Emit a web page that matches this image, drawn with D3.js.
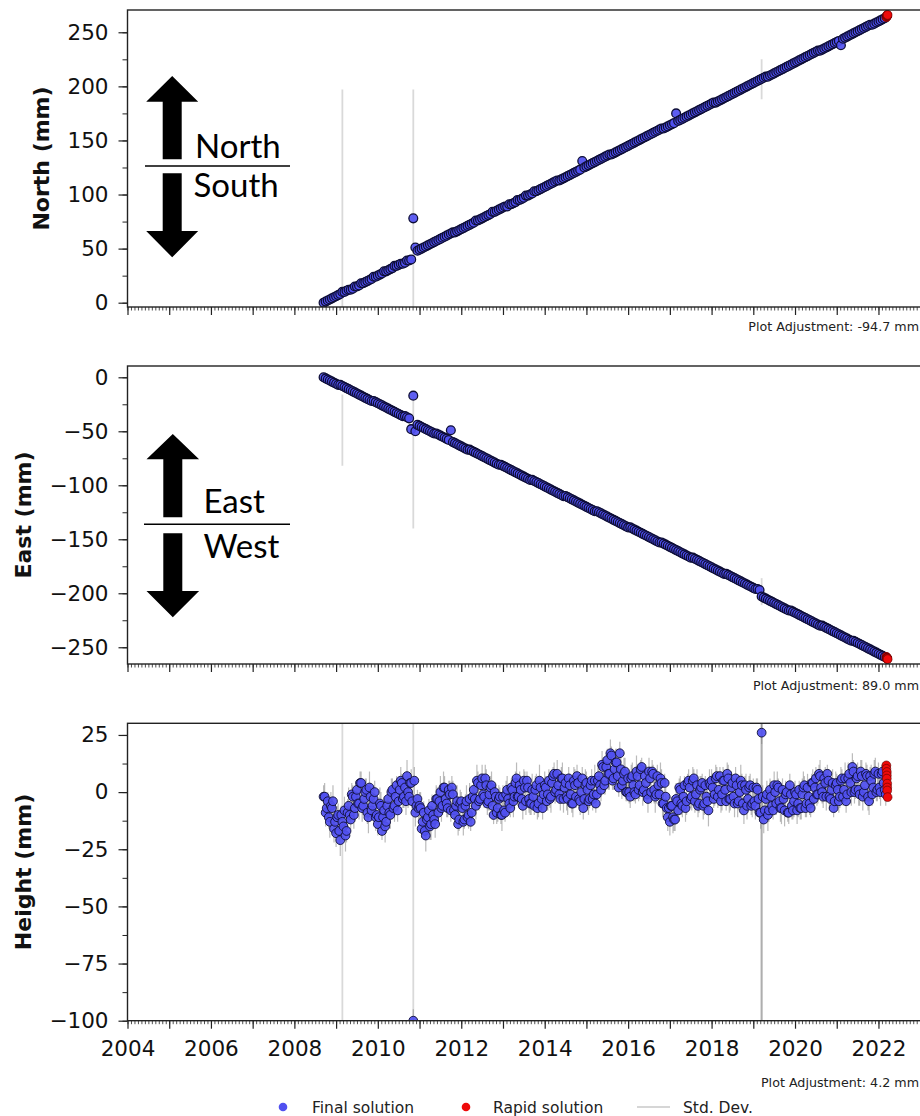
<!DOCTYPE html>
<html><head><meta charset="utf-8">
<script src="https://cdn.jsdelivr.net/npm/d3@7"></script>
<style>body{margin:0;background:#fff} svg{display:block}</style>
</head><body>
<svg id="chart" width="920" height="1116"></svg>
<script>
// ---------- DATA ----------
const epochs = [
2008.70,2008.75,2008.80,2008.85,2008.90,2008.95,
2009.00,2009.05,2009.10,2009.15,2009.20,2009.25,2009.30,2009.35,2009.40,2009.45,2009.50,2009.55,2009.60,2009.65,2009.70,2009.75,2009.80,2009.85,2009.90,2009.95,
2010.00,2010.05,2010.10,2010.15,2010.20,2010.25,2010.30,2010.35,2010.40,2010.45,2010.50,2010.55,2010.60,2010.65,2010.70,2010.75,2010.80,2010.85,2010.90,2010.95,
2011.00,2011.05,2011.10,2011.15,2011.20,2011.25,2011.30,2011.35,2011.40,2011.45,2011.50,2011.55,2011.60,2011.65,2011.70,2011.75,2011.80,2011.85,2011.90,2011.95,
2012.00,2012.05,2012.10,2012.15,2012.20,2012.25,2012.30,2012.35,2012.40,2012.45,2012.50,2012.55,2012.60,2012.65,2012.70,2012.75,2012.80,2012.85,2012.90,2012.95,
2013.00,2013.05,2013.10,2013.15,2013.20,2013.25,2013.30,2013.35,2013.40,2013.45,2013.50,2013.55,2013.60,2013.65,2013.70,2013.75,2013.80,2013.85,2013.90,2013.95,
2014.00,2014.05,2014.10,2014.15,2014.20,2014.25,2014.30,2014.35,2014.40,2014.45,2014.50,2014.55,2014.60,2014.65,2014.70,2014.75,2014.80,2014.85,2014.90,2014.95,
2015.00,2015.05,2015.10,2015.15,2015.20,2015.25,2015.30,2015.35,2015.40,2015.45,2015.50,2015.55,2015.60,2015.65,2015.70,2015.75,2015.80,2015.85,2015.90,2015.95,
2016.00,2016.05,2016.10,2016.15,2016.20,2016.25,2016.30,2016.35,2016.40,2016.45,2016.50,2016.55,2016.60,2016.65,2016.70,2016.75,2016.80,2016.85,2016.90,2016.95,
2017.00,2017.05,2017.10,2017.15,2017.20,2017.25,2017.30,2017.35,2017.40,2017.45,2017.50,2017.55,2017.60,2017.65,2017.70,2017.75,2017.80,2017.85,2017.90,2017.95,
2018.00,2018.05,2018.10,2018.15,2018.20,2018.25,2018.30,2018.35,2018.40,2018.45,2018.50,2018.55,2018.60,2018.65,2018.70,2018.75,2018.80,2018.85,2018.90,2018.95,
2019.00,2019.05,2019.10,2019.15,2019.20,2019.25,2019.30,2019.35,2019.40,2019.45,2019.50,2019.55,2019.60,2019.65,2019.70,2019.75,2019.80,2019.85,2019.90,2019.95,
2020.00,2020.05,2020.10,2020.15,2020.20,2020.25,2020.30,2020.35,2020.40,2020.45,2020.50,2020.55,2020.60,2020.65,2020.70,2020.75,2020.80,2020.85,2020.90,2020.95,
2021.00,2021.05,2021.10,2021.15,2021.20,2021.25,2021.30,2021.35,2021.40,2021.45,2021.50,2021.55,2021.60,2021.65,2021.70,2021.75,2021.80,2021.85,2021.90,2021.95,
2022.00,2022.05,2022.10,2022.15
];

const north = [
0,1,2,3,4,5,
6,7,8,10,10,11,12,12,13,15,15,16,18,18,19,20,21,22,24,24,
25,26,27,29,29,30,31,32,34,34,35,36,36,37,39,39,40,78,51,48,
49,50,51,52,53,54,55,56,57,58,59,60,61,62,63,64,65,65,66,67,
68,69,70,71,72,73,74,76,76,77,78,79,80,81,82,84,84,85,86,87,
88,89,89,91,91,92,93,95,95,96,97,99,99,100,101,103,103,104,105,106,
107,108,109,110,111,112,113,113,114,115,116,117,118,119,120,121,122,123,131,125,
126,127,128,129,130,131,132,133,134,135,136,137,137,138,139,140,141,142,143,144,
145,146,147,148,149,150,151,152,153,154,155,156,157,158,159,160,161,161,162,163,
164,165,166,175,168,169,170,171,172,173,174,175,176,177,178,179,180,181,182,183,
184,185,185,186,187,188,189,190,191,192,193,194,195,196,197,198,199,200,201,202,
203,204,205,206,207,208,209,209,210,211,212,213,214,215,216,217,218,219,220,221,
222,223,224,225,226,227,228,229,230,231,232,233,233,234,235,236,237,238,239,240,
241,242,238,244,245,246,247,248,249,250,251,252,253,254,255,256,257,257,258,259,
260,261,262,263
];

const east = [
0,-1,-2,-3,-4,-5,
-6,-7,-7,-8,-9,-10,-11,-12,-13,-14,-15,-16,-17,-18,-19,-20,-21,-22,-22,-23,
-24,-25,-26,-27,-28,-29,-30,-31,-32,-33,-34,-35,-36,-36,-37,-38,-48,-17,-50,-44,
-45,-46,-47,-48,-49,-50,-51,-52,-52,-53,-54,-55,-56,-57,-58,-49,-60,-61,-62,-63,
-64,-65,-66,-67,-67,-68,-69,-70,-71,-72,-73,-74,-75,-76,-77,-78,-79,-80,-81,-81,
-82,-83,-84,-85,-86,-87,-88,-89,-90,-91,-92,-93,-94,-95,-95,-96,-97,-98,-99,-100,
-101,-102,-103,-104,-105,-106,-107,-108,-109,-110,-110,-111,-112,-113,-114,-115,-116,-117,-118,-119,
-120,-121,-122,-123,-124,-124,-125,-126,-127,-128,-129,-130,-131,-132,-133,-134,-135,-136,-137,-138,
-139,-139,-140,-141,-142,-143,-144,-145,-146,-147,-148,-149,-150,-151,-152,-153,-153,-154,-155,-156,
-157,-158,-159,-160,-161,-162,-163,-164,-165,-166,-167,-167,-168,-169,-170,-171,-172,-173,-174,-175,
-176,-177,-178,-179,-180,-181,-182,-182,-183,-184,-185,-186,-187,-188,-189,-190,-191,-192,-193,-194,
-195,-196,-196,-197,-203,-204,-205,-206,-207,-208,-209,-210,-211,-212,-213,-214,-215,-216,-216,-217,
-218,-219,-220,-221,-222,-223,-224,-225,-226,-227,-228,-229,-230,-230,-231,-232,-233,-234,-235,-236,
-237,-238,-239,-240,-241,-242,-243,-244,-244,-245,-246,-247,-248,-249,-250,-251,-252,-253,-254,-255,
-256,-257,-258,-259
];

const height = [
-2,-9,-4,-13,-7,-16,
-18,-10,-21,-13,-8,-17,-6,-12,-2,-7,1,-5,4,-6,0,-9,2,-8,-3,-11,
-14,-5,-17,-8,-13,-3,-10,1,-6,3,-4,5,-3,2,7,-2,4,-100,-9,-3,
-6,-16,-9,-19,-11,-15,-6,-12,-3,-9,0,-6,2,-5,1,-8,-1,-10,-4,-12,
-4,-13,-6,-11,-3,-9,1,-6,4,-3,6,-2,3,-4,2,-6,0,-9,-3,-10,
-2,-9,1,-5,2,-4,4,-2,3,-3,5,-4,2,-5,1,-6,3,-5,2,-7,
3,-4,5,-2,7,0,8,-1,6,-3,4,-3,3,-5,5,-2,4,-4,6,-3,
4,-4,3,-3,5,-1,7,1,11,5,14,8,16,6,13,7,17,3,8,0,
6,-2,7,0,9,1,10,0,7,-1,9,0,8,-2,7,-1,4,-5,-2,-11,
-13,-6,-12,-3,-8,1,-6,3,-4,5,-3,5,-4,3,-5,2,-6,3,-4,4,
5,-3,6,-2,7,-1,5,-4,6,-3,4,-5,3,-4,5,-5,3,-6,2,-6,
2,-6,1,-9,26,-12,-3,-10,1,-6,3,-5,2,-7,1,-8,0,-9,-1,-8,
0,-8,1,-7,2,-7,2,-5,4,-3,6,-1,7,0,6,-2,5,-3,4,-4,
4,-4,5,-2,6,-1,8,0,9,1,7,-1,7,0,8,-2,7,-1,8,0,
8,0,9,1
];

const sdHeight = [
5,6,4,7,5,6,
6,5,7,4,6,5,8,4,5,6,4,7,5,4,6,5,7,4,5,6,
5,7,4,6,5,4,6,5,7,4,5,6,4,5,7,4,6,5,6,4,
6,4,5,7,4,6,5,4,6,5,7,4,5,6,4,5,6,4,7,5,
4,6,5,4,7,5,4,6,5,4,6,5,7,4,5,6,4,5,6,4,
5,4,6,5,4,7,5,4,6,4,5,6,4,5,7,4,5,6,4,5,
6,4,5,7,4,5,6,4,5,6,4,7,5,4,6,5,4,6,5,4,
5,6,4,5,7,4,6,5,4,6,5,7,4,5,6,4,5,6,7,4,
4,5,6,4,7,5,4,6,5,4,6,5,4,7,5,4,6,5,4,6,
6,4,5,7,4,6,5,4,6,5,4,6,5,7,4,5,6,4,5,6,
5,4,6,5,4,7,5,4,6,5,4,6,5,4,7,5,4,6,5,4,
4,6,5,4,5,6,4,7,5,4,6,5,4,6,5,7,4,5,6,4,
5,6,4,5,7,4,6,5,4,6,5,4,7,5,4,6,5,4,6,5,
4,5,6,4,7,5,4,6,5,4,6,5,7,4,5,6,4,5,6,4,
5,6,4,5
];

// Second set of height solutions between the epochs above
const epochsB = [
2008.725,2008.775,2008.825,2008.875,2008.925,2008.975,
2009.025,2009.075,2009.125,2009.175,2009.225,2009.275,2009.325,2009.375,2009.425,2009.475,2009.525,2009.575,2009.625,2009.675,2009.725,2009.775,2009.825,2009.875,2009.925,2009.975,
2010.025,2010.075,2010.125,2010.175,2010.225,2010.275,2010.325,2010.375,2010.425,2010.475,2010.525,2010.575,2010.625,2010.675,2010.725,2010.775,2010.825,2010.875,2010.925,2010.975,
2011.025,2011.075,2011.125,2011.175,2011.225,2011.275,2011.325,2011.375,2011.425,2011.475,2011.525,2011.575,2011.625,2011.675,2011.725,2011.775,2011.825,2011.875,2011.925,2011.975,
2012.025,2012.075,2012.125,2012.175,2012.225,2012.275,2012.325,2012.375,2012.425,2012.475,2012.525,2012.575,2012.625,2012.675,2012.725,2012.775,2012.825,2012.875,2012.925,2012.975,
2013.025,2013.075,2013.125,2013.175,2013.225,2013.275,2013.325,2013.375,2013.425,2013.475,2013.525,2013.575,2013.625,2013.675,2013.725,2013.775,2013.825,2013.875,2013.925,2013.975,
2014.025,2014.075,2014.125,2014.175,2014.225,2014.275,2014.325,2014.375,2014.425,2014.475,2014.525,2014.575,2014.625,2014.675,2014.725,2014.775,2014.825,2014.875,2014.925,2014.975,
2015.025,2015.075,2015.125,2015.175,2015.225,2015.275,2015.325,2015.375,2015.425,2015.475,2015.525,2015.575,2015.625,2015.675,2015.725,2015.775,2015.825,2015.875,2015.925,2015.975,
2016.025,2016.075,2016.125,2016.175,2016.225,2016.275,2016.325,2016.375,2016.425,2016.475,2016.525,2016.575,2016.625,2016.675,2016.725,2016.775,2016.825,2016.875,2016.925,2016.975,
2017.025,2017.075,2017.125,2017.175,2017.225,2017.275,2017.325,2017.375,2017.425,2017.475,2017.525,2017.575,2017.625,2017.675,2017.725,2017.775,2017.825,2017.875,2017.925,2017.975,
2018.025,2018.075,2018.125,2018.175,2018.225,2018.275,2018.325,2018.375,2018.425,2018.475,2018.525,2018.575,2018.625,2018.675,2018.725,2018.775,2018.825,2018.875,2018.925,2018.975,
2019.025,2019.075,2019.125,2019.175,2019.225,2019.275,2019.325,2019.375,2019.425,2019.475,2019.525,2019.575,2019.625,2019.675,2019.725,2019.775,2019.825,2019.875,2019.925,2019.975,
2020.025,2020.075,2020.125,2020.175,2020.225,2020.275,2020.325,2020.375,2020.425,2020.475,2020.525,2020.575,2020.625,2020.675,2020.725,2020.775,2020.825,2020.875,2020.925,2020.975,
2021.025,2021.075,2021.125,2021.175,2021.225,2021.275,2021.325,2021.375,2021.425,2021.475,2021.525,2021.575,2021.625,2021.675,2021.725,2021.775,2021.825,2021.875,2021.925,2021.975,
2022.025,2022.075,2022.125,2022.175
];

const heightB = [
-2,-7,-11,-6,-4,-13,
-11,-17,-10,-15,-19,-9,-10,-1,-10,-2,-5,4,-7,-3,1,-11,-2,-6,0,-10,
-11,-6,-11,-15,-6,-9,0,-7,-2,-8,1,4,-2,-4,0,4,-4,5,-6,-7,
-7,-13,-17,-12,-8,-14,-10,-14,-3,-4,-7,2,-3,-7,-1,2,-8,-6,-14,-5,
-7,-12,-4,-10,-13,-2,-3,5,-4,3,-1,6,-5,-1,3,-10,-2,-7,-2,-10,
-8,-1,-3,-7,1,-2,6,-2,1,-6,2,5,-3,-5,-2,1,-7,5,-3,-1,
2,-1,-3,4,8,1,3,-3,6,2,-2,6,-1,-5,3,7,-3,0,-7,3,
1,-3,5,-1,-5,5,3,12,3,11,8,17,5,10,13,2,10,5,9,0,
0,6,3,-1,7,3,11,1,4,-3,6,9,1,-1,3,6,-5,4,-7,-7,
-6,-11,-12,-4,2,-5,-2,-7,4,2,-2,6,-1,-6,1,4,-5,-2,-8,3,
2,-1,7,1,-4,5,1,8,-3,2,-2,6,-5,0,3,-8,1,-3,3,-5,
-4,2,-3,-9,-2,-8,-1,-8,-2,-8,0,3,-4,-7,-3,-1,-9,3,-6,-4,
-1,-5,-7,-1,3,-5,-2,-7,4,2,-1,8,2,-2,4,8,-2,1,-7,3,
1,-2,6,1,-4,6,4,11,0,6,1,9,-2,3,7,-4,5,2,9,1,
2,8,4,-1
];

const sdHeightB = [
6,4,5,6,7,5,
5,6,4,5,7,6,4,5,6,7,4,5,6,4,5,7,6,4,5,6,
4,6,5,7,4,5,6,4,7,5,6,4,5,6,7,4,5,6,4,5,
7,5,4,6,5,7,4,6,5,4,6,7,5,4,6,5,4,7,5,6,
5,4,7,6,4,5,6,7,4,5,4,6,5,7,6,4,5,6,4,7,
4,6,5,4,6,5,7,4,5,6,7,4,6,5,4,6,5,7,4,6,
5,7,4,6,5,4,6,5,7,4,6,5,4,6,7,5,4,6,5,7,
6,4,5,6,4,7,5,6,4,5,7,6,4,5,6,4,7,5,6,4,
5,6,7,4,5,6,4,5,7,6,4,5,6,4,5,7,6,4,5,6,
4,7,5,6,4,5,7,6,4,5,6,4,7,5,6,4,5,6,7,4,
6,5,4,7,5,6,4,5,6,7,4,5,6,4,5,6,7,4,5,6,
5,4,6,7,5,4,6,5,7,4,5,6,4,7,5,6,4,5,6,7,
4,6,5,7,4,6,5,4,6,7,5,4,6,5,7,4,6,5,4,6,
6,5,4,6,5,7,4,6,5,4,7,5,6,4,5,6,7,4,6,5,
5,4,6,5
];

// Rapid solutions at the end of the record
const rapidEpochs = [2022.19,2022.19,2022.20,2022.20,2022.20,2022.21,2022.21,2022.21,2022.22];
const rapidNorth  = [264,264,265,265,265,265,266,266,266];
const rapidEast   = [-259,-259,-260,-260,-260,-260,-260,-261,-261];
const rapidHeight = [11.7,10.2,8.8,7.3,5.9,3.7,2.0,0.7,-2.2];

// Large standard deviations: [epoch, low, high]
const northSpikes  = [[2009.15,-20,197],[2010.85,-20,197],[2019.20,188,225]];
const eastSpikes   = [[2009.15,-82,-16],[2010.85,-140,-16],[2019.20,-211,-186]];
const heightSpikes = [[2009.15,-200,200],[2010.85,-200,200],[2019.19,-200,200],[2019.20,-200,200],[2019.21,-200,200]];

// Axis ticks and labels
const yearTicks    = [2004,2005,2006,2007,2008,2009,2010,2011,2012,2013,2014,2015,2016,2017,2018,2019,2020,2021,2022,2023];
const northTicks   = [0,50,100,150,200,250];
const eastTicks    = [0,-50,-100,-150,-200,-250];
const heightTicks  = [25,0,-25,-50,-75,-100];
const axisLabels   = ["North (mm)","East (mm)","Height (mm)"];
const adjustments  = ["Plot Adjustment: -94.7 mm","Plot Adjustment: 89.0 mm","Plot Adjustment: 4.2 mm"];
const legendLabels = ["Final solution","Rapid solution","Std. Dev."];

// ---------- DRAWING ----------
const svg = d3.select("#chart");
const BLUE = "#5050f0", BLUE_EDGE = "#0e0e36", RED = "#ee0a0a", RED_EDGE = "#5a0000";
const x = d3.scaleLinear().domain([2004, 2023.3]).range([127.5, 127.5 + 19.3 * 41.72]);
const minorMonths = d3.range(2004, 2023.3, 1/12);

const panels = [
  {top:10,    bottom:307,    domain:[-3.98,270.6], ticks:northTicks,  minor:d3.range(0,275,25),
   series:[{ep:epochs, vals:north}], rapid:rapidNorth, spikes:northSpikes, labelX:41.5, adjY:331, showX:false, edge:1.3},
  {top:366,   bottom:664,    domain:[-265.5,10.46],ticks:eastTicks,   minor:d3.range(-250,10,25),
   series:[{ep:epochs, vals:east}], rapid:rapidEast, spikes:eastSpikes, labelX:23, adjY:690, showX:false, edge:1.3},
  {top:723.3, bottom:1020.7, domain:[-100,30.1],   ticks:heightTicks, minor:d3.range(-100,30,12.5),
   series:[{ep:epochs, vals:height, sd:sdHeight},{ep:epochsB, vals:heightB, sd:sdHeightB}],
   rapid:rapidHeight, spikes:heightSpikes, labelX:23, adjY:1087, showX:true, edge:0.9}
];

const defs = svg.append("defs");

panels.forEach((p, pi) => {
  const y = d3.scaleLinear().domain(p.domain).range([p.bottom, p.top]);
  const x0 = x.range()[0], x1 = x.range()[1];
  defs.append("clipPath").attr("id", "clip" + pi)
    .append("rect").attr("x", x0).attr("y", p.top).attr("width", x1 - x0).attr("height", p.bottom - p.top);
  const g = svg.append("g").attr("clip-path", `url(#clip${pi})`);

  // std dev error bars
  p.series.filter(s => s.sd).forEach(s => {
    g.append("g").selectAll("line").data(s.ep).join("line")
      .attr("x1", d => x(d)).attr("x2", d => x(d))
      .attr("y1", (d, i) => y(s.vals[i] - s.sd[i]))
      .attr("y2", (d, i) => y(s.vals[i] + s.sd[i]))
      .attr("stroke", "#555").attr("stroke-opacity", 0.4).attr("stroke-width", 1.2);
  });
  g.append("g").selectAll("line").data(p.spikes).join("line")
    .attr("x1", d => x(d[0])).attr("x2", d => x(d[0]))
    .attr("y1", d => y(d[1])).attr("y2", d => y(d[2]))
    .attr("stroke", "#808080").attr("stroke-opacity", 0.3).attr("stroke-width", 1.8);

  // final solutions (merged, in time order)
  const pts = [];
  p.series.forEach(s => s.ep.forEach((e, i) => pts.push([e, s.vals[i]])));
  pts.sort((a, b) => a[0] - b[0]);
  g.append("g").selectAll("circle").data(pts).join("circle")
    .attr("cx", d => x(d[0])).attr("cy", d => y(d[1])).attr("r", 4.4)
    .attr("fill", BLUE).attr("fill-opacity", 0.92)
    .attr("stroke", BLUE_EDGE).attr("stroke-width", p.edge);

  // rapid solutions
  g.append("g").selectAll("circle").data(rapidEpochs).join("circle")
    .attr("cx", d => x(d)).attr("cy", (d, i) => y(p.rapid[i])).attr("r", 4.4)
    .attr("fill", RED).attr("stroke", RED_EDGE).attr("stroke-width", 0.6);

  // y axis
  const ya = svg.append("g").attr("transform", `translate(${x0},0)`)
    .call(d3.axisLeft(y).tickValues(p.ticks).tickSize(9).tickPadding(10));
  ya.select(".domain").remove();
  ya.selectAll("text").attr("font-family", "DejaVu Sans").attr("font-size", 21.5).attr("fill", "#111");
  ya.selectAll("line").attr("stroke", "#222").attr("stroke-width", 1.2);
  const ym = svg.append("g").attr("transform", `translate(${x0},0)`)
    .call(d3.axisLeft(y).tickValues(p.minor).tickSize(5).tickFormat(""));
  ym.select(".domain").remove();
  ym.selectAll("line").attr("stroke", "#222").attr("stroke-width", 1);

  // x axis
  const xa = svg.append("g").attr("transform", `translate(0,${p.bottom})`)
    .call(d3.axisBottom(x).tickValues(yearTicks).tickSize(8).tickPadding(12)
      .tickFormat(d => (p.showX && d % 2 === 0 && d <= 2022) ? d3.format("d")(d) : ""));
  xa.select(".domain").remove();
  xa.selectAll("text").attr("font-family", "DejaVu Sans").attr("font-size", 21.5).attr("fill", "#111");
  xa.selectAll("line").attr("stroke", "#222").attr("stroke-width", 1.2);
  const xm = svg.append("g").attr("transform", `translate(0,${p.bottom})`)
    .call(d3.axisBottom(x).tickValues(minorMonths).tickSize(3.5).tickFormat(""));
  xm.select(".domain").remove();
  xm.selectAll("line").attr("stroke", "#222").attr("stroke-width", 0.8);

  // spines
  svg.append("rect").attr("x", x0).attr("y", p.top).attr("width", x1 - x0).attr("height", p.bottom - p.top)
    .attr("fill", "none").attr("stroke", "#222").attr("stroke-width", 1.4);

  // axis label
  svg.append("text")
    .attr("transform", `translate(${p.labelX},${(p.top + p.bottom) / 2}) rotate(-90)`)
    .attr("text-anchor", "middle").attr("dominant-baseline", "central")
    .attr("font-family", "DejaVu Sans").attr("font-weight", "bold").attr("font-size", 22)
    .attr("fill", "#111").text(axisLabels[pi]);

  // plot adjustment note
  svg.append("text").attr("x", 919).attr("y", p.adjY).attr("text-anchor", "end")
    .attr("font-family", "DejaVu Sans").attr("font-size", 12.7).attr("fill", "#222")
    .text(adjustments[pi]);
});

// direction annotations (arrows + words)
function arrows(tipY, headBase, shaftBottom, lineY, downTop, downBase, downTip, cx, hw, sw, lx0, lx1) {
  const a = svg.append("g");
  a.append("polygon").attr("points", [
    [cx, tipY], [cx + hw, headBase], [cx + sw, headBase], [cx + sw, shaftBottom],
    [cx - sw, shaftBottom], [cx - sw, headBase], [cx - hw, headBase]].map(p => p.join(",")).join(" "))
    .attr("fill", "#000");
  a.append("polygon").attr("points", [
    [cx - sw, downTop], [cx + sw, downTop], [cx + sw, downBase], [cx + hw, downBase],
    [cx, downTip], [cx - hw, downBase], [cx - sw, downBase]].map(p => p.join(",")).join(" "))
    .attr("fill", "#000");
  a.append("line").attr("x1", lx0).attr("x2", lx1).attr("y1", lineY).attr("y2", lineY)
    .attr("stroke", "#000").attr("stroke-width", 1.6);
  return a;
}
const annFont = g => g.selectAll("text").attr("font-family", "Lato, 'Open Sans', sans-serif")
  .attr("font-size", 33).attr("fill", "#000");
const ann1 = arrows(76, 101.7, 159.3, 166, 173.3, 231, 257.3, 172.2, 26, 9.5, 145, 290);
ann1.append("text").attr("x", 195).attr("y", 157.7).text("North");
ann1.append("text").attr("x", 193.5).attr("y", 196.7).text("South");
annFont(ann1);
const ann2 = arrows(434, 459.3, 517.3, 524.3, 533.3, 591, 617.3, 172.8, 26.3, 9.5, 144, 290);
ann2.append("text").attr("x", 203.5).attr("y", 512.7).text("East");
ann2.append("text").attr("x", 203.5).attr("y", 558).text("West");
annFont(ann2);

// legend
const lg = svg.append("g");
lg.append("circle").attr("cx", 283).attr("cy", 1107).attr("r", 4.3).attr("fill", BLUE);
lg.append("text").attr("x", 312).attr("y", 1112.5).text(legendLabels[0]);
lg.append("circle").attr("cx", 466).attr("cy", 1107).attr("r", 4.3).attr("fill", RED);
lg.append("text").attr("x", 493).attr("y", 1112.5).text(legendLabels[1]);
lg.append("line").attr("x1", 637).attr("x2", 670).attr("y1", 1107).attr("y2", 1107)
  .attr("stroke", "#c8c8c8").attr("stroke-width", 1.5);
lg.append("text").attr("x", 683).attr("y", 1112.5).text(legendLabels[2]);
lg.selectAll("text").attr("font-family", "DejaVu Sans").attr("font-size", 15.5).attr("fill", "#222");
</script>
</body></html>
